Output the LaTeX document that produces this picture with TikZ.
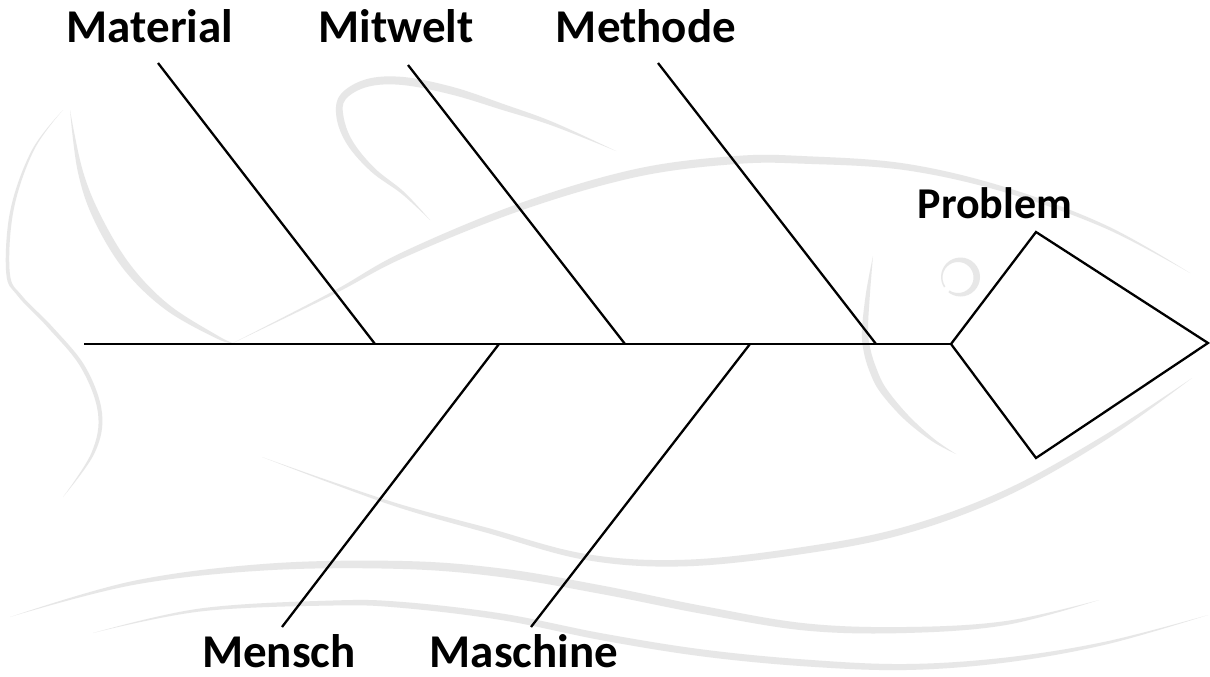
\documentclass[tikz,border=0pt]{standalone}
\usepackage{fontspec}
\setmainfont{Carlito}
\definecolor{fishgray}{RGB}{231,231,231}
\tikzset{
  bone/.style={draw=black, line width=2.3pt},
  spine/.style={draw=black, line width=2.7pt},
  catlabel/.style={font=\bfseries\fontsize{47}{50}\selectfont, inner sep=0pt, anchor=base, text=black},
  headlabel/.style={catlabel, font=\bfseries\fontsize{44}{48}\selectfont},
  wm/.style={fill=fishgray, draw=none},
}
\begin{document}
\begin{tikzpicture}[x=1pt,y=-1pt]
\useasboundingbox (0,0) rectangle (1210,677);
\fill[white] (0,0) rectangle (1210,677);

% ---- faint fish watermark (tapered brush strokes) ----
% tail, outer edge
\fill[wm] plot[smooth,tension=0.6] coordinates {(63,110) (32,150) (10.4,210) (6.2,273) (17.8,296) (47.4,327) (80.6,367) (98,413) (91.4,453) (63,497)}
  -- plot[smooth,tension=0.6] coordinates {(63,497) (94.6,453) (102,413) (85.4,367) (52.6,327) (22.2,296) (9.8,273) (13.6,210) (34,150) (63,110)} -- cycle;
% tail, inner edge
\fill[wm] plot[smooth,tension=0.6] coordinates {(70,110) (82.4,169.4) (100.6,215.3) (130.2,264.6) (168.8,304.6) (217.6,335.6) (233,343)}
  -- plot[smooth,tension=0.6] coordinates {(233,343) (216.4,338.4) (165.2,309.4) (123.8,269.4) (93.4,218.7) (77.6,170.6) (70,110)} -- cycle;
% back of the body
\fill[wm] plot[smooth,tension=0.6] coordinates {(233,343) (332.3,291.7) (401.8,252.5) (518.8,203.6) (635.2,169.1) (735.7,156) (806.1,156.2) (906.5,163.8) (1006.7,187.6) (1106.6,225.6) (1190,273)}
  -- plot[smooth,tension=0.6] coordinates {(1190,273) (1105.4,228.4) (1005.3,192.4) (905.5,170.2) (805.9,163.8) (736.3,164) (636.8,176.9) (521.2,210.4) (404.2,257.5) (333.7,294.3) (233,343)} -- cycle;
% belly
\fill[wm] plot[smooth,tension=0.6] coordinates {(262,457) (333,482) (403,505.1) (486,527.4) (586,554) (686,559.7) (806,546.5) (906,526.4) (1006,489.5) (1106,434.2) (1192,378)}
  -- plot[smooth,tension=0.6] coordinates {(1192,378) (1106,439.8) (1006,496.5) (906,533.6) (806,553.5) (686,566.3) (586,560) (486,532.6) (403,508.9) (333,484) (262,457)} -- cycle;
% dorsal fin
\fill[wm] plot[smooth,tension=0.6] coordinates {(430,220) (404,191.9) (374.7,168.2) (352.7,141.3) (343.5,116.5) (345.7,99.2) (368,86.7) (402.6,85) (452,94.7) (502.1,109.9) (552.4,125.7) (616,151)}
  -- plot[smooth,tension=0.6] coordinates {(616,151) (553.6,122.3) (503.9,104.2) (454,87.3) (403.4,77) (366,79.3) (340.3,94.8) (336.5,117.5) (347.3,144.7) (371.3,171.8) (402,194.1) (430,220)} -- cycle;
% gill
\fill[wm] plot[smooth,tension=0.6] coordinates {(873,256) (866,293) (862,330) (863.5,350.5) (869.5,371.4) (880.1,392) (904,419) (932.1,441.2) (956,454)}
  -- plot[smooth,tension=0.6] coordinates {(956,454) (933.9,438.8) (908,415) (885.9,388) (876.5,368.6) (870.5,349.5) (868,330) (870,293) (873,256)} -- cycle;
% eye
\begin{scope}
  \clip (959,277) -- (936.1,309.8) -- (995,315) -- (995,240) -- (920,240) -- (926.2,299.9) -- cycle;
  \fill[wm, even odd rule] (960.5,277) circle[radius=19.5] (958,277.5) circle[radius=15.5];
\end{scope}
% water waves
\fill[wm] plot[smooth,tension=0.6] coordinates {(10,617) (133,581) (267,563.7) (403,561) (503,568.7) (603,585.7) (703,606) (806,623.4) (906,627) (1006,621) (1099,600)}
  -- plot[smooth,tension=0.6] coordinates {(1099,600) (1006,625) (906,633) (806,630.6) (703,614) (603,594.3) (503,577.3) (403,569) (267,570.3) (133,585) (10,617)} -- cycle;
\fill[wm] plot[smooth,tension=0.6] coordinates {(93,633) (200,608.5) (333,600.5) (403,602) (503,613.7) (603,633.5) (703,649.5) (806,659.6) (906,664) (1006,657.5) (1106,641.5) (1208,615)}
  -- plot[smooth,tension=0.6] coordinates {(1208,615) (1106,644.5) (1006,662.5) (906,670) (806,666.4) (703,656.5) (603,640.5) (503,620.3) (403,608) (333,605.5) (200,611.5) (93,633)} -- cycle;

% ---- Ishikawa diagram ----
\coordinate (tail) at (84,344);
\coordinate (head) at (951,344);
\coordinate (jMat) at (375,344);
\coordinate (jMit) at (625,344);
\coordinate (jMet) at (876,344);
\coordinate (jMen) at (499,344);
\coordinate (jMas) at (750,344);
\coordinate (eMat) at (158,63);
\coordinate (eMit) at (408,65);
\coordinate (eMet) at (658,63);
\coordinate (eMen) at (282,627);
\coordinate (eMas) at (531,627);
\coordinate (pTop) at (1036,232);
\coordinate (pNose) at (1208,343);
\coordinate (pBot) at (1036,458);

\node[catlabel] (material) at (150,43) {Material};
\node[catlabel] (mitwelt)  at (396,43) {Mitwelt};
\node[catlabel] (methode)  at (646,43) {Methode};
\node[catlabel] (mensch)   at (279,667) {Mensch};
\node[catlabel] (maschine) at (524,667) {Maschine};
\node[headlabel] (problem) at (995,218) {Problem};

\draw[spine] (tail) -- (head);
\draw[bone] (eMat) -- (jMat);
\draw[bone] (eMit) -- (jMit);
\draw[bone] (eMet) -- (jMet);
\draw[bone] (eMen) -- (jMen);
\draw[bone] (eMas) -- (jMas);
\draw[bone, line join=miter] (head) -- (pTop) -- (pNose) -- (pBot) -- cycle;
\end{tikzpicture}
\end{document}
